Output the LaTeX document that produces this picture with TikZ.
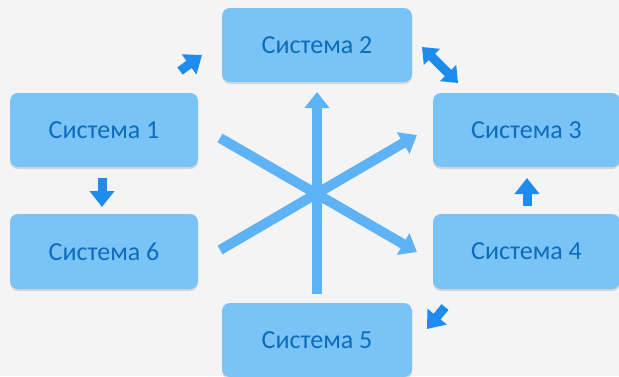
\documentclass[tikz,border=0pt]{standalone}
\usepackage{fontspec}
\setmainfont{Carlito}
\usetikzlibrary{arrows.meta,shadows}
\definecolor{bg}{HTML}{F4F4F4}
\definecolor{boxfill}{HTML}{79C3F7}
\definecolor{boxtext}{HTML}{0E6CBC}
\definecolor{smallarrow}{HTML}{1E8BF0}
\definecolor{stararrow}{HTML}{5DB3F5}
\tikzset{
  sysbox/.style={rectangle, rounded corners=8pt, fill=boxfill, draw=none,
    minimum width=188pt, minimum height=74pt, inner sep=0pt,
    text=boxtext, font=\fontsize{26}{30}\selectfont,
    drop shadow={shadow xshift=0pt, shadow yshift=-2pt, opacity=0.12, fill=black}},
  blockarrow/.style={draw=smallarrow, line width=9pt,
    -{Triangle[width=24pt,length=16pt]}, fill=smallarrow},
  dblarrow/.style={draw=smallarrow, line width=9pt,
    {Triangle[width=22pt,length=14pt]}-{Triangle[width=22pt,length=14pt]}},
  stararr/.style={draw=stararrow, line width=10pt,
    -{Triangle[width=24pt,length=16pt]}},
  starline/.style={draw=stararrow, line width=10pt}
}
\begin{document}
\begin{tikzpicture}[x=1pt,y=-1pt]
  \fill[bg] (0,0) rectangle (619,376);
  \useasboundingbox (0,0) rectangle (619,376);

  \node[sysbox] (s1) at (104,130) {Система 1};
  \node[sysbox, minimum width=190pt] (s2) at (317,45) {Система 2};
  \node[sysbox, minimum width=187pt] (s3) at (526.5,130) {Система 3};
  \node[sysbox, minimum width=187pt, minimum height=75pt] (s4) at (526.5,251.5) {Система 4};
  \node[sysbox, minimum width=190pt] (s5) at (317,340) {Система 5};
  \node[sysbox, minimum height=75pt] (s6) at (104,251.5) {Система 6};

  % small arrows
  \coordinate (a1t) at (180,71);  \coordinate (a1h) at (202,55);
  \coordinate (a2t) at (422,47);  \coordinate (a2h) at (458,83);
  \coordinate (a3t) at (102,178); \coordinate (a3h) at (102,207);
  \coordinate (a4t) at (527,206); \coordinate (a4h) at (527,178);
  \coordinate (a5t) at (445,307); \coordinate (a5h) at (427,329);
  \draw[blockarrow] (a1t) -- (a1h);
  \draw[dblarrow] (a2t) -- (a2h);
  \draw[blockarrow] (a3t) -- (a3h);
  \draw[blockarrow] (a4t) -- (a4h);
  \draw[blockarrow] (a5t) -- (a5h);

  % star arrows
  \coordinate (c) at (317,193);
  \coordinate (vt) at (317,294);  \coordinate (vh) at (317,92);
  \coordinate (d1t) at (220,138); \coordinate (d1h) at (417,252);
  \coordinate (d2t) at (220,250); \coordinate (d2h) at (417,135);
  \draw[stararr] (vt) -- (vh);
  \draw[stararr] (d1t) -- (d1h);
  \draw[stararr] (d2t) -- (d2h);
\end{tikzpicture}
\end{document}
